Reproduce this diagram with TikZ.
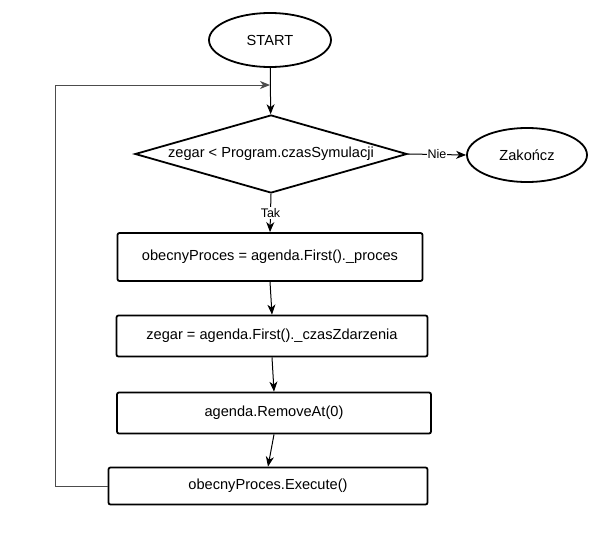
\documentclass[tikz,border=0pt]{standalone}
\usepackage{fontspec}
\setmainfont{Liberation Sans}
\usetikzlibrary{shapes.geometric,arrows.meta}

\begin{document}
\begin{tikzpicture}[x=1pt, y=-1pt,
  term/.style={ellipse, draw=black, line width=1.8pt, minimum width=122pt,
    minimum height=54pt, inner sep=0pt, font=\fontsize{14.6}{17}\selectfont},
  cond/.style={diamond, draw=black, line width=1.8pt, minimum width=272pt,
    minimum height=78pt, aspect=3.5, inner sep=0pt, font=\fontsize{14.6}{17}\selectfont},
  act/.style={rectangle, rounded corners=2pt, draw=black, line width=1.8pt,
    inner sep=0pt, font=\fontsize{14.6}{17}\selectfont},
  arr/.style={-{Stealth[length=10pt, width=8pt, inset=3pt]}, line width=1pt},
  lbl/.style={fill=white, inner sep=1pt, font=\fontsize{12.5}{14}\selectfont}]
\useasboundingbox (0,0) rectangle (610,541);
% ---- start and loop condition ----
\node[term] (start) at (270,40) {START};
\coordinate (join) at (270,85);
\node[cond] (cond) at (271,154) {zegar < Program.czasSymulacji};
\node[term, minimum width=120pt] (stop) at (527,155) {Zakończ};
% ---- loop body ----
\node[act, minimum width=305pt, minimum height=48pt] (proc) at (270,257)
  {obecnyProces = agenda.First().\_proces};
\node[act, minimum width=311pt, minimum height=41pt] (clock) at (272,336)
  {zegar = agenda.First().\_czasZdarzenia};
\node[act, minimum width=314pt, minimum height=41pt] (remove) at (274,413)
  {agenda.RemoveAt(0)};
\node[act, minimum width=319pt, minimum height=37pt] (exec) at (268,486)
  {obecnyProces.Execute()};
% ---- connectors ----
\draw[arr] (start) -- (cond);
\draw[arr] (cond.east) -- node[lbl] {Nie} (stop.west);
\draw[arr] (cond.south) -- node[lbl] {Tak} (proc.north);
\draw[arr] (proc.south) -- (clock.north);
\draw[arr] (clock.south) -- (remove.north);
\draw[arr] (remove.south) -- (exec.north);
% back edge to the loop test
\draw[arr, draw=black!70] (exec.west) -- ++(-52,0) |- (join);
\end{tikzpicture}
\end{document}
